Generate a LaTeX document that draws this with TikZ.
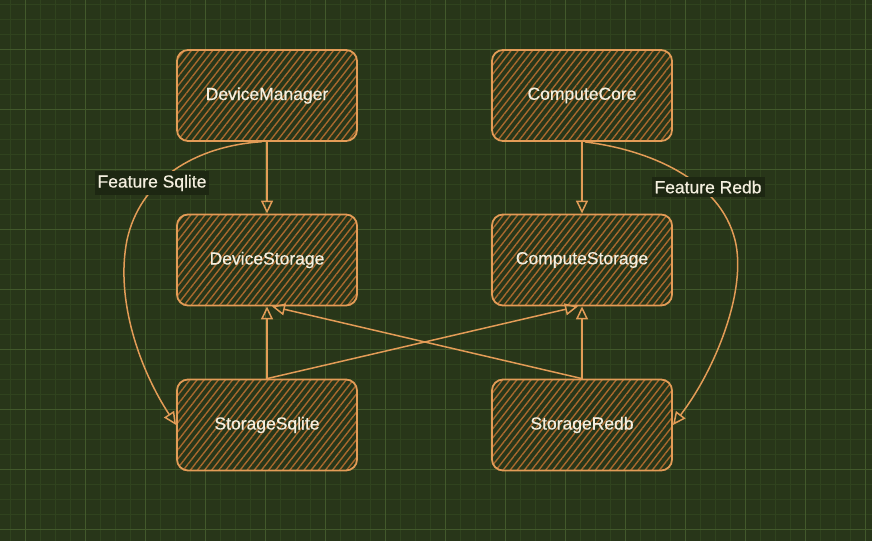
\documentclass[tikz,border=0pt]{standalone}
\usepackage{fontspec}
\setmainfont{Liberation Sans}
\newfontfamily\labfont{Liberation Sans}[FakeBold=0.5]
\usetikzlibrary{arrows.meta,patterns.meta}
\definecolor{bgc}{HTML}{283619}
\definecolor{gridminor}{HTML}{30431E}
\definecolor{gridmajor}{HTML}{42592B}
\definecolor{stroke}{HTML}{E39C57}
\definecolor{hatch}{HTML}{A9692E}
\definecolor{txt}{HTML}{F4EFDF}
\definecolor{lblbg}{HTML}{1D2712}
\tikzset{
  box/.style={draw=stroke, line width=1.8pt, rounded corners=11pt,
    minimum width=180pt, minimum height=91pt, inner sep=0pt,
    preaction={fill=bgc},
    pattern={Lines[angle=52,distance=5.6pt,line width=1.4pt]}, pattern color=hatch,
    text=txt, font=\labfont\fontsize{17.5}{20}\selectfont},
  conn/.style={draw=stroke, line width=1.5pt,
    -{Triangle[open,length=13pt,width=12pt,line width=1.5pt]}},
  lbl/.style={fill=lblbg, text=txt, inner xsep=3pt, inner ysep=3.5pt,
    font=\labfont\fontsize{17.5}{20}\selectfont}
}
\begin{document}
\begin{tikzpicture}[x=1pt,y=-1pt]
\useasboundingbox (0,0) rectangle (872,541);
\fill[bgc] (0,0) rectangle (872,541);
% minor grid
\foreach \i in {0,...,58} {
  \draw[gridminor, line width=1pt] ({10+15*\i-15},0) -- ({10+15*\i-15},541);
}
\foreach \j in {0,...,37} {
  \draw[gridminor, line width=1pt] (0,{4+15*\j}) -- (872,{4+15*\j});
}
% major grid
\foreach \i in {0,...,14} {
  \draw[gridmajor, line width=1pt] ({25+60*\i},0) -- ({25+60*\i},541);
}
\foreach \j in {0,...,8} {
  \draw[gridmajor, line width=1pt] (0,{49+60*\j}) -- (872,{49+60*\j});
}
% nodes
\node[box] (dm) at (267,95.5) {DeviceManager};
\node[box] (cc) at (582,95.5) {ComputeCore};
\node[box] (ds) at (267,260) {DeviceStorage};
\node[box] (cs) at (582,260) {ComputeStorage};
\node[box] (ss) at (267,425) {StorageSqlite};
\node[box] (sr) at (582,425) {StorageRedb};
% straight connectors
\draw[conn] (dm.south) -- (ds.north);
\draw[conn] (cc.south) -- (cs.north);
\draw[conn] (ss.north) -- (ds.south);
\draw[conn] (sr.north) -- (cs.south);
\draw[conn] (ss.north) -- ([xshift=-4pt]cs.south);
\draw[conn] (sr.north) -- ([xshift=5pt]ds.south);
% curved connectors
\draw[conn] ([xshift=-5pt]dm.south) .. controls (195,146) and (140,180) .. (127,240)
   .. controls (115,300) and (140,370) .. (ss.west);
\draw[conn] ([xshift=3pt]cc.south) .. controls (650,150) and (720,180) .. (735,240)
   .. controls (747.5,290) and (715,370) .. (sr.east);
% labels
\node[lbl] (l1) at (152,183) {Feature Sqlite};
\node[lbl] (l2) at (708,187) {Feature Redb};
\end{tikzpicture}
\end{document}
